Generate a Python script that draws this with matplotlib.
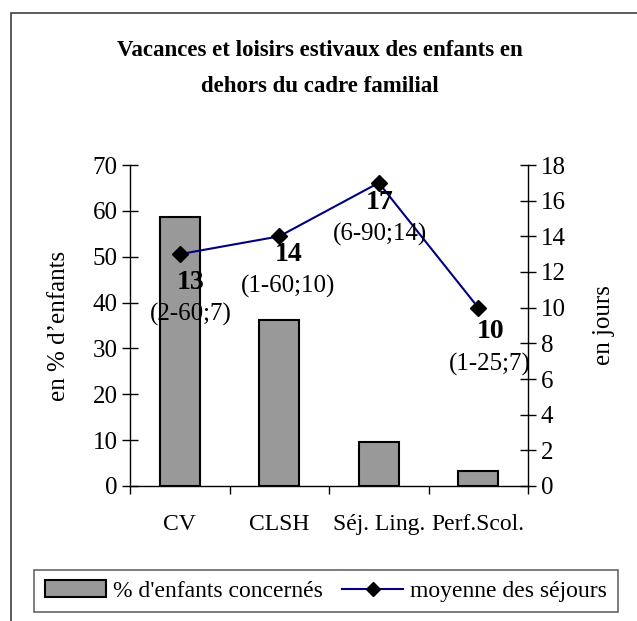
import matplotlib.pyplot as plt
from matplotlib.patches import Rectangle, Patch
from matplotlib.lines import Line2D
import numpy as np

plt.rcParams['font.family'] = ['Liberation Serif', 'DejaVu Serif']

# données
categories = ["CV", "CLSH", "Séj. Ling.", "Perf.Scol."]
pct_enfants = [58.6, 36.2, 9.6, 3.3]
moyenne_jours = [13, 14, 17, 10]
etendue = ["(2-60;7)", "(1-60;10)", "(6-90;14)", "(1-25;7)"]

# décalages des étiquettes (pixels) : (dx, dy du nombre, dy de la parenthèse)
label_offsets = [(11, -28, -60), (9, -18, -50), (1, -20, -52), (12, -24, -57)]

fig = plt.figure(figsize=(6.37, 6.21), dpi=100)
W, H = 637, 621

# cadre extérieur (coupé à droite et en bas)
fig.patches.append(Rectangle((11 / W, -0.05), 1.05, 1 - 13 / H + 0.05,
                             transform=fig.transFigure, fill=False,
                             edgecolor='#404040', linewidth=1.2))

ax = fig.add_axes([130 / W, 1 - 486 / H, (528 - 130) / W, (486 - 165) / H])
x = np.arange(len(categories))
ax.bar(x, pct_enfants, width=0.4, color='#999999', edgecolor='black',
       linewidth=1.5, zorder=2)
ax.set_xlim(-0.5, len(categories) - 0.5)
ax.set_ylim(0, 70)
ax.set_yticks(np.arange(0, 71, 10))
ax.set_xticks(np.arange(-0.5, len(categories), 1.0))
ax.set_xticklabels([])
ax.set_xticks(x, minor=True)
ax.set_xticklabels(categories, minor=True)
ax.tick_params(axis='x', which='major', direction='out', length=6, width=1)
ax.tick_params(axis='x', which='minor', length=0, labelsize=17, pad=20)
ax.tick_params(axis='y', direction='inout', length=12, width=1,
               labelsize=18, pad=3)
for s in ['top', 'right']:
    ax.spines[s].set_visible(False)
ax.spines['left'].set_linewidth(1)
ax.spines['bottom'].set_linewidth(1)
ax.set_ylabel("en % d’enfants", fontsize=18, labelpad=16)

ax2 = ax.twinx()
ax2.plot(x, moyenne_jours, color='#000080', linewidth=1.5, marker='D',
         markersize=8, markerfacecolor='black', markeredgecolor='black',
         zorder=3)
ax2.set_ylim(0, 18)
ax2.set_yticks(np.arange(0, 19, 2))
ax2.tick_params(axis='y', direction='inout', length=12, width=1,
                labelsize=18, pad=3)
for s in ['top', 'left', 'bottom']:
    ax2.spines[s].set_visible(False)
ax2.spines['right'].set_linewidth(1)
ax2.set_ylabel("en jours", fontsize=18, labelpad=20)

for xi, v, e, (dx, dy1, dy2) in zip(x, moyenne_jours, etendue, label_offsets):
    ax2.annotate(str(v), (xi, v), xytext=(dx, dy1), textcoords='offset pixels',
                 ha='center', va='center', fontsize=20, fontweight='bold')
    ax2.annotate(e, (xi, v), xytext=(dx, dy2), textcoords='offset pixels',
                 ha='center', va='center', fontsize=18)

fig.text(320 / W, 1 - 50 / H, "Vacances et loisirs estivaux des enfants en",
         ha='center', va='center', fontsize=16.5, fontweight='bold')
fig.text(320 / W, 1 - 87 / H, "dehors du cadre familial",
         ha='center', va='center', fontsize=16.5, fontweight='bold')

handles = [Patch(facecolor='#999999', edgecolor='black', linewidth=1.5),
           Line2D([], [], color='#000080', linewidth=1.5, marker='D',
                  markersize=7, markerfacecolor='black',
                  markeredgecolor='black')]
leg = fig.legend(handles, ["% d'enfants concernés", "moyenne des séjours"],
                 loc='center', bbox_to_anchor=(326 / W, 1 - 591 / H),
                 ncol=2, fontsize=17, frameon=True, fancybox=False,
                 edgecolor='#404040', handlelength=2.6, handletextpad=0.3,
                 columnspacing=0.8, borderpad=0.45)
leg.get_frame().set_linewidth(1.2)

fig.savefig("out.png", dpi=100)
